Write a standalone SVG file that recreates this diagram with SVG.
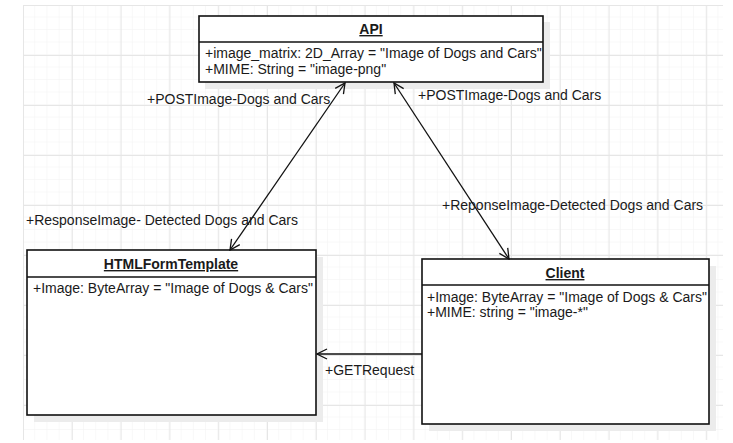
<svg xmlns="http://www.w3.org/2000/svg" width="733" height="443" viewBox="0 0 733 443">
<style>
text{font-family:"Liberation Sans",Arial,sans-serif;font-size:14px;fill:#1a1a1a}
.title{font-weight:bold;text-anchor:middle;text-decoration:underline}
.box{fill:#fff;stroke:#111;stroke-width:1.6}
.div{stroke:#111;stroke-width:1.4}
.shadow{fill:#ececec}
.conn{stroke:#111;stroke-width:1.3;fill:none}
</style>
<defs>
<pattern id="minor" x="23" y="5" width="12.2" height="12.5" patternUnits="userSpaceOnUse">
<path d="M12.2 0V12.5M0 12.5H12.2" stroke="#f2f2f2" stroke-width="1" fill="none"/>
</pattern>
<pattern id="major" x="23" y="5" width="48.8" height="50" patternUnits="userSpaceOnUse">
<path d="M0.5 0V50M0 0.5H48.8" stroke="#e6e6e6" stroke-width="1" fill="none"/>
</pattern>
<marker id="arr" viewBox="0 0 12 12" refX="11" refY="6" markerWidth="12" markerHeight="12" markerUnits="userSpaceOnUse" orient="auto-start-reverse">
<path d="M1 1L11 6L1 11" fill="none" stroke="#111" stroke-width="1.3"/>
</marker>
</defs>
<rect width="733" height="443" fill="#fff"/>
<rect x="23" y="5" width="700" height="435" fill="url(#minor)"/>
<rect x="23" y="5" width="700" height="435" fill="url(#major)"/>
<g id="api">
<rect class="shadow" x="205" y="22" width="345" height="67"/>
<rect class="box" x="199" y="16" width="344" height="66"/>
<line class="div" x1="199" y1="42" x2="543" y2="42"/>
<text class="title" x="371" y="34">API</text>
<text x="205" y="58">+image_matrix: 2D_Array = "Image of Dogs and Cars"</text>
<text x="205" y="74">+MIME: String = "image-png"</text>
</g>
<g id="htmlformtemplate">
<rect class="shadow" x="34" y="257" width="289" height="165"/>
<rect class="box" x="27" y="250" width="289" height="165"/>
<line class="div" x1="27" y1="277" x2="316" y2="277"/>
<text class="title" x="171" y="269">HTMLFormTemplate</text>
<text x="33" y="293">+Image: ByteArray = "Image of Dogs &amp; Cars"</text>
</g>
<g id="client">
<rect class="shadow" x="429" y="266" width="287" height="165"/>
<rect class="box" x="422" y="259" width="287" height="165"/>
<line class="div" x1="422" y1="285" x2="709" y2="285"/>
<text class="title" x="565" y="278">Client</text>
<text x="427" y="302">+Image: ByteArray = "Image of Dogs &amp; Cars"</text>
<text x="427" y="317">+MIME: string = "image-*"</text>
</g>
<g id="connectors">
<line class="conn" x1="345" y1="83" x2="230" y2="250" marker-start="url(#arr)" marker-end="url(#arr)"/>
<line class="conn" x1="394" y1="83" x2="509" y2="259" marker-start="url(#arr)" marker-end="url(#arr)"/>
<line class="conn" x1="422" y1="354" x2="317" y2="354" marker-end="url(#arr)"/>
<text x="147" y="104">+POSTImage-Dogs and Cars</text>
<text x="26" y="225">+ResponseImage- Detected Dogs and Cars</text>
<text x="418" y="100">+POSTImage-Dogs and Cars</text>
<text x="442" y="210">+ReponseImage-Detected Dogs and Cars</text>
<text x="325" y="375">+GETRequest</text>
</g>
</svg>
